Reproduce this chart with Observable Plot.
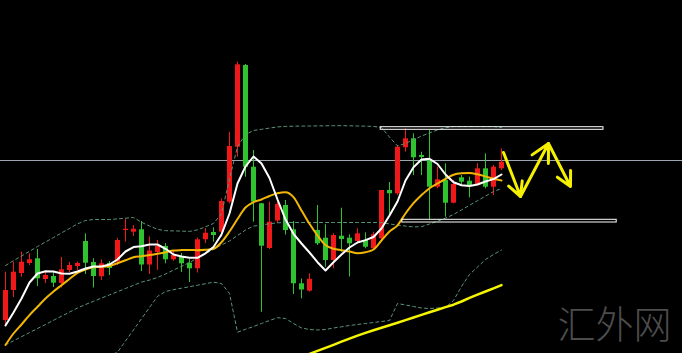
<!DOCTYPE html>
<html>
<head>
<meta charset="utf-8">
<script src="https://cdn.jsdelivr.net/npm/d3@7"></script>
<script src="https://cdn.jsdelivr.net/npm/@observablehq/plot@0.6"></script>
<style>
  html, body { margin: 0; padding: 0; background: #000; overflow: hidden; }
  #chart svg { display: block; }
</style>
</head>
<body>
<div id="chart"></div>
<script>
// OHLC prices, one entry per bar (bar index = array position)
const opens  = [80,110,127,137,141.7,121,124,117,130,134,159,138,123.7,137,138.3,170,168.3,170.7,135.5,148,154,140.7,144,137.3,131.7,160.7,168,168.3,198.3,253.3,335,233.3,196.7,152,179.5,195,170.7,116.7,109.3,170,162.3,140,164.3,162.3,159,160,151.7,161.7,210,206.7,252.7,261.7,245,240.7,213.3,220,197.3,222.7,219.3,216,231.7,213.3,231.7];
const highs  = [128.3,138.3,148.3,146.7,151,128,129,143,138,138.3,166.7,141.7,140.7,139,162,181.3,175,179,163.5,160,157,150,147,141,162.5,172,172.7,201.7,268.3,338.3,336,250,197,198.3,199,200,179,121.5,126.7,195,175.7,166.7,192.3,165.7,171.7,167.7,168.3,210,218,255,271.7,266.7,248.3,270,233.3,236.7,220,225,223.3,236.7,246.7,235,251.7];
const lows   = [76,103,123.3,135,114,117,113,112.5,128,130,126,112.5,120,125,135,158.3,164,129,126,130,136.7,139,128,118,127.5,157,158.3,163.3,196.7,243.3,223.3,178.3,88.3,151,177,165.5,106,101.7,108.3,155,133.3,131.7,148.3,123.5,156.7,151.7,151,160,183,205,248.3,225,225,180.7,211.7,183.3,196.7,215,202.7,215,211.7,205,230];
const closes = [110,128.3,138.3,140.7,121.7,125,117.3,130.7,135,137,137.3,124,136.7,132,160,171.3,171.3,135.5,149.5,154,140.7,145,136.7,131.7,160.7,167.3,165,199,254,335.7,233.3,198.3,154.3,178.3,196,170,116.7,110.5,121.2,156.7,140,165,161,156.7,166.7,153.3,165.7,210,206.7,253.3,261.7,242.7,243,213.3,220.7,197.3,216,218.3,215,231.7,213.3,233.3,238.3];

// Moving averages
const ma5  = [75,88,102,118,127,129.2,129,127,126.7,129,132,134,134,136,141,149,153.4,154.3,156,156,151.7,146,144,142.7,142.7,147.2,153.5,166,187,217,234,244,237,222.5,201,181,166.7,157,148,138.3,130,138.3,146,153,158,160.4,163.5,172,185,199,220,233.3,241,241.7,236.5,226,218.3,215.3,214.5,216,219,221.4,226];
const ma10 = [55.5,67,76,85.4,93.7,102,109,115.3,121.5,127.7,131,133.3,133.7,134.6,137.3,140.2,143.3,144.3,145.4,146.8,148.3,150,150.4,150.6,150.2,150.7,151.7,158.3,169,181.5,193,198.3,201,204.5,207.3,208.3,203.3,190,176.7,165,155.5,151.7,150.3,149,147.3,148.3,151,160,169,175.2,187,197.4,205.4,212.3,217,221.5,225.7,227.2,227.5,226.2,224.1,221.7,220];
// Long moving average, starting at bar 36
const ma60Start = 36;
const ma60 = [40.5,43.5,46.6,49.7,52.7,55.7,58.8,61.8,64.9,67.6,70.2,72.7,75.3,77.8,80.4,83,85.6,88.2,90.8,93.4,95.8,99,102.6,105.8,109,112.2,115.4];

// Bollinger bands (20)
const bollUpper = [135,139.8,144.5,149.2,154,158.5,163,167.6,172,176.6,180,181,181,181,181.6,182.3,183,178.2,174.5,171.2,169.8,169.6,169.4,169.1,170.6,173.8,177,186.8,221.6,254,266,270,271.2,272.4,273.6,274.1,274.3,274.4,274.5,274.6,274.7,274.8,274.8,274.7,274.5,274.3,274.1,273,263.4,254.6,257,260.7,264.4,267.6,270.5,272.7,274,274,274,274,274,274,273];
const bollMid   = [55.6,59.7,63.8,67.9,72,76,80.2,84.3,88.4,92.5,96,99.2,102.4,105.6,108.8,112,115.2,118.4,120.4,123,126.5,130.4,134.2,138,142.4,146.7,151.2,155.5,159.5,165,170.5,174.4,175.5,176.8,177.7,178,178,178,178,178,178,178,178,178,178,178,178,177.9,176.6,175.3,174.4,173.6,173.8,176.5,179.3,182.4,186,190.6,195.2,199.8,204.4,209,212];
const bollLower = [null,null,null,null,null,null,null,null,null,25,30,35,40,45,48.3,59.5,70.6,81.8,93,104.1,109,110.8,112.3,113.8,115.3,116.8,118.3,117,107,68.3,71.2,74,77,80,82.8,82,77,72.5,71,70.5,71,72.5,73.7,75,76,77,78,79,80,97,95.5,94,92.5,92,92.5,93,100,114,126,133.5,141,146,150.5];

// Reference level and the two range boxes (bar span, price span)
const refLevel = [240];
const rangeBoxes = [
  {from: 46.9, to: 74.75, lo: 270.7, hi: 273.3},
  {from: 49.6, to: 76.4, lo: 178, hi: 180.7}
];
// Projected path: bar position and price of each turning point
const pathBars   = [62.25, 64.375, 67.875, 70.625];
const pathPrices = [248, 204, 257, 214];

const candles = opens.map((o, i) => ({i, open: o, high: highs[i], low: lows[i], close: closes[i]}));
const toSeries = (arr, start = 0) => arr.map((v, k) => ({i: start + k, v}));
const legs = pathBars.slice(1).map((b, k) => ({
  x1: pathBars[k], y1: pathPrices[k], x2: b, y2: pathPrices[k + 1]
}));

const RED = "#f01818", GREEN = "#2fc42f";
const color = d => d.close >= d.open ? RED : GREEN;
const band = {x: "i", y: "v", stroke: "#5a9478", strokeWidth: 1, strokeDasharray: "3,3", clip: true};

const chart = Plot.plot({
  width: 682,
  height: 353,
  margin: 0,
  style: {background: "#000", overflow: "hidden"},
  x: {type: "linear", domain: [-0.625, 84.625], axis: null},
  y: {type: "linear", domain: [47, 400], axis: null},
  marks: [
    Plot.ruleY(refLevel, {stroke: "#9aa6b2", strokeWidth: 1}),
    // wicks and bodies
    Plot.ruleX(candles, {x: "i", y1: "low", y2: "high", stroke: color, strokeWidth: 1}),
    Plot.ruleX(candles, {x: "i", y1: "open", y2: "close", stroke: color, strokeWidth: 5}),
    Plot.line(toSeries(bollUpper), band),
    Plot.line(toSeries(bollMid), band),
    Plot.line(toSeries(bollLower), band),
    Plot.line(toSeries(ma10), {x: "i", y: "v", stroke: "#f2b705", strokeWidth: 2, curve: "monotone-x", clip: true}),
    Plot.line(toSeries(ma5), {x: "i", y: "v", stroke: "#ffffff", strokeWidth: 2, clip: true}),
    Plot.line(toSeries(ma60, ma60Start), {x: "i", y: "v", stroke: "#f5f500", strokeWidth: 2.5, clip: true}),
    Plot.rect(rangeBoxes, {x1: "from", x2: "to", y1: "lo", y2: "hi", fill: "none", stroke: "#ffffff", strokeWidth: 1}),
    Plot.arrow(legs, {x1: "x1", y1: "y1", x2: "x2", y2: "y2", stroke: "#f5f000", strokeWidth: 3, headLength: 13, headAngle: 55}),
    Plot.text(["汇外网"], {
      frameAnchor: "bottom-right", dx: -11, dy: -16,
      fontSize: 38, fill: "#4d4d4d", fontFamily: "Noto Sans CJK SC", fontWeight: 300
    })
  ]
});

document.getElementById("chart").append(chart);
</script>
</body>
</html>
